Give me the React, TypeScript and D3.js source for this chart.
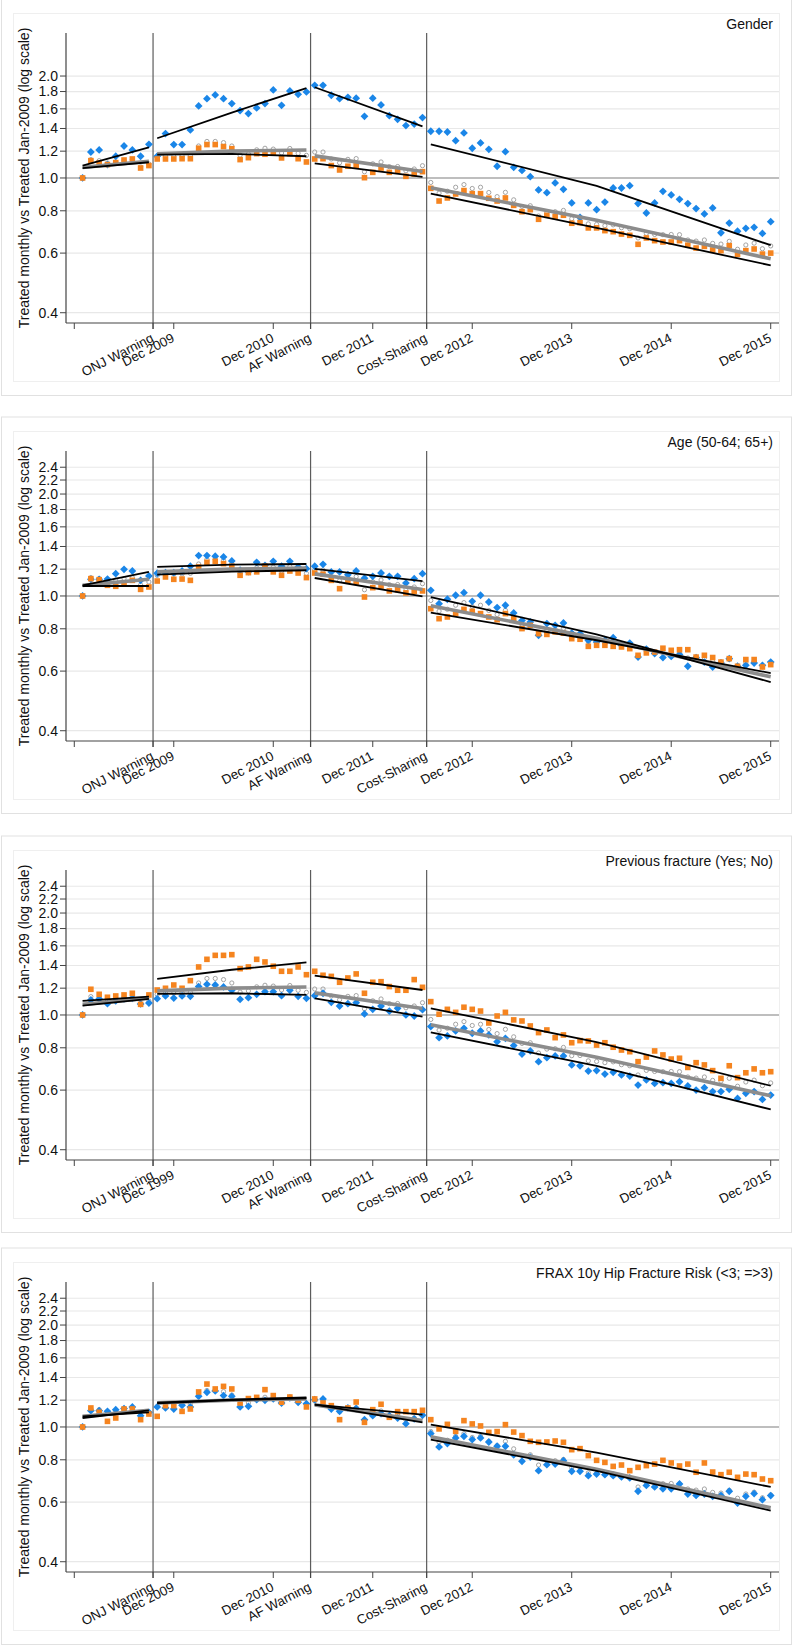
import React from 'react';
import * as d3 from 'd3';

// ---------- data ----------
const MONTHS: number[] = d3.range(1, 85); // Jan 2009 (1) ... Dec 2015 (84)

const xTickMonths = [0, 9.5, 12, 24, 28.5, 36, 42.5, 48, 60, 72, 84];
const xTickLabels = ['', 'ONJ Warning', 'Dec 2009', 'Dec 2010', 'AF Warning', 'Dec 2011', 'Cost-Sharing', 'Dec 2012', 'Dec 2013', 'Dec 2014', 'Dec 2015'];
const xTickLabelsFracture = ['', 'ONJ Warning', 'Dec 1999', 'Dec 2010', 'AF Warning', 'Dec 2011', 'Cost-Sharing', 'Dec 2012', 'Dec 2013', 'Dec 2014', 'Dec 2015'];
const interventions = [9.5, 28.5, 42.5];

const yTicksShort = [0.4, 0.6, 0.8, 1.0, 1.2, 1.4, 1.6, 1.8, 2.0];
const yTicksLong = [0.4, 0.6, 0.8, 1.0, 1.2, 1.4, 1.6, 1.8, 2.0, 2.2, 2.4];

const panelTitles = ['Gender', 'Age (50-64; 65+)', 'Previous fracture (Yes; No)', 'FRAX 10y Hip Fracture Risk (<3; =>3)'];

// overall (grey hollow circles), same in every panel
const overallValues = [
  1.0, 1.133, 1.125, 1.107, 1.115, 1.125, 1.133, 1.078, 1.1,
  1.15, 1.16, 1.16, 1.162, 1.166, 1.243, 1.282, 1.282, 1.272, 1.243, 1.168, 1.178, 1.211, 1.224, 1.217, 1.185, 1.222, 1.183, 1.166,
  1.193, 1.193, 1.138, 1.109, 1.135, 1.141, 1.043, 1.101, 1.115, 1.08, 1.081, 1.05, 1.063, 1.087,
  0.97, 0.902, 0.914, 0.939, 0.956, 0.931, 0.939, 0.906, 0.881, 0.907, 0.862, 0.824, 0.828, 0.772, 0.793, 0.795, 0.802, 0.758, 0.759, 0.732,
  0.729, 0.723, 0.727, 0.713, 0.708, 0.665, 0.686, 0.681, 0.68, 0.681, 0.68, 0.656, 0.651, 0.656, 0.641, 0.638, 0.65, 0.616, 0.634, 0.642, 0.618, 0.63,
];

// Gender
const genderBlue = [
  1.0, 1.193, 1.21, 1.095, 1.159, 1.243, 1.21, 1.159, 1.257,
  1.16, 1.352, 1.255, 1.255, 1.386, 1.632, 1.715, 1.759, 1.715, 1.658, 1.581, 1.549, 1.61, 1.658, 1.82, 1.639, 1.807, 1.766, 1.795,
  1.878, 1.878, 1.755, 1.715, 1.73, 1.72, 1.521, 1.72, 1.643, 1.528, 1.49, 1.428, 1.443, 1.508,
  1.374, 1.374, 1.367, 1.289, 1.358, 1.224, 1.269, 1.215, 1.083, 1.196, 1.075, 1.053, 1.009, 0.922, 0.905, 0.967, 0.926, 0.844, 0.765, 0.844,
  0.806, 0.849, 0.934, 0.934, 0.949, 0.84, 0.788, 0.844, 0.913, 0.891, 0.865, 0.84, 0.812, 0.783, 0.816, 0.689, 0.736, 0.696, 0.71, 0.715, 0.686, 0.743,
];
const genderOrange = [
  1.0, 1.125, 1.107, 1.095, 1.11, 1.13, 1.138, 1.07, 1.088,
  1.138, 1.138, 1.138, 1.14, 1.14, 1.224, 1.255, 1.255, 1.238, 1.22, 1.133, 1.148, 1.18, 1.175, 1.185, 1.146, 1.18, 1.14, 1.115,
  1.138, 1.14, 1.088, 1.056, 1.083, 1.09, 1.002, 1.039, 1.07, 1.039, 1.051, 1.011, 1.027, 1.044,
  0.932, 0.855, 0.873, 0.897, 0.918, 0.899, 0.899, 0.871, 0.855, 0.873, 0.83, 0.795, 0.806, 0.755, 0.776, 0.77, 0.776, 0.735, 0.738, 0.712,
  0.712, 0.699, 0.694, 0.683, 0.677, 0.637, 0.665, 0.653, 0.647, 0.647, 0.653, 0.633, 0.621, 0.628, 0.613, 0.61, 0.631, 0.595, 0.61, 0.617, 0.596, 0.6,
];

// Age
const ageBlue = [
  1.0, 1.12, 1.12, 1.122, 1.164, 1.199, 1.185, 1.112, 1.146,
  1.167, 1.172, 1.172, 1.185, 1.224, 1.316, 1.316, 1.31, 1.304, 1.269, 1.191, 1.18, 1.257, 1.232, 1.266, 1.224, 1.266, 1.218, 1.204,
  1.224, 1.24, 1.178, 1.178, 1.156, 1.185, 1.128, 1.143, 1.169, 1.143, 1.143, 1.092, 1.125, 1.164,
  1.039, 0.949, 0.978, 1.005, 1.023, 0.964, 1.005, 0.96, 0.924, 0.939, 0.891, 0.847, 0.838, 0.765, 0.829, 0.819, 0.832, 0.777, 0.774, 0.74,
  0.731, 0.74, 0.753, 0.715, 0.726, 0.66, 0.697, 0.676, 0.658, 0.663, 0.672, 0.62, 0.658, 0.638, 0.617, 0.634, 0.653, 0.62, 0.624, 0.634, 0.624, 0.638,
];
const ageOrange = [
  1.0, 1.125, 1.117, 1.075, 1.068, 1.087, 1.112, 1.046, 1.063,
  1.107, 1.138, 1.12, 1.122, 1.112, 1.218, 1.257, 1.266, 1.246, 1.224, 1.151, 1.172, 1.178, 1.224, 1.178, 1.151, 1.185, 1.169, 1.133,
  1.169, 1.159, 1.112, 1.051, 1.112, 1.1, 0.993, 1.058, 1.07, 1.035, 1.044, 1.021, 1.032, 1.035,
  0.917, 0.857, 0.867, 0.887, 0.913, 0.901, 0.887, 0.867, 0.851, 0.887, 0.857, 0.801, 0.819, 0.774, 0.77, 0.783, 0.777, 0.748, 0.745, 0.71,
  0.715, 0.715, 0.71, 0.707, 0.699, 0.668, 0.679, 0.683, 0.701, 0.691, 0.694, 0.694, 0.66, 0.668, 0.658, 0.638, 0.653, 0.62, 0.649, 0.649, 0.617, 0.627,
];

// Previous fracture
const fractureBlue = [
  1.0, 1.107, 1.115, 1.08, 1.1, 1.115, 1.12, 1.078, 1.085,
  1.117, 1.138, 1.122, 1.138, 1.135, 1.213, 1.232, 1.226, 1.21, 1.183, 1.112, 1.125, 1.151, 1.172, 1.172, 1.14, 1.183, 1.135, 1.12,
  1.14, 1.159, 1.09, 1.063, 1.08, 1.087, 1.007, 1.039, 1.063, 1.027, 1.046, 1.0, 0.993, 1.037,
  0.924, 0.857, 0.867, 0.897, 0.913, 0.883, 0.897, 0.873, 0.834, 0.853, 0.812, 0.767, 0.783, 0.728, 0.748, 0.757, 0.757, 0.712, 0.708, 0.683,
  0.685, 0.669, 0.677, 0.665, 0.66, 0.621, 0.643, 0.628, 0.631, 0.628, 0.635, 0.617, 0.6, 0.61, 0.594, 0.594, 0.603, 0.567, 0.587, 0.594, 0.563, 0.58,
];
const fractureOrange = [
  1.0, 1.191, 1.151, 1.128, 1.138, 1.146, 1.159, 1.075, 1.146,
  1.185, 1.199, 1.226, 1.199, 1.263, 1.386, 1.46, 1.5, 1.5, 1.507, 1.37, 1.386, 1.46, 1.434, 1.393, 1.346, 1.346, 1.386, 1.315,
  1.346, 1.31, 1.3, 1.249, 1.286, 1.322, 1.159, 1.249, 1.254, 1.213, 1.183, 1.183, 1.272, 1.207,
  1.095, 1.005, 1.039, 1.018, 1.054, 1.039, 1.027, 0.947, 0.993, 1.018, 0.967, 0.96, 0.928, 0.887, 0.903, 0.857, 0.873, 0.828, 0.84, 0.838,
  0.815, 0.828, 0.803, 0.788, 0.779, 0.728, 0.751, 0.783, 0.762, 0.741, 0.745, 0.7, 0.723, 0.712, 0.685, 0.65, 0.708, 0.653, 0.675, 0.693, 0.675, 0.68,
];

// FRAX
const fraxBlue = [
  1.0, 1.117, 1.117, 1.112, 1.125, 1.133, 1.146, 1.08, 1.105,
  1.146, 1.138, 1.13, 1.159, 1.146, 1.232, 1.266, 1.278, 1.238, 1.232, 1.146, 1.151, 1.204, 1.199, 1.21, 1.177, 1.218, 1.183, 1.172,
  1.204, 1.21, 1.13, 1.112, 1.138, 1.133, 1.051, 1.08, 1.095, 1.08, 1.063, 1.023, 1.056, 1.083,
  0.956, 0.873, 0.893, 0.928, 0.939, 0.918, 0.928, 0.903, 0.877, 0.877, 0.828, 0.792, 0.815, 0.743, 0.774, 0.777, 0.795, 0.74, 0.74, 0.718,
  0.726, 0.723, 0.718, 0.712, 0.707, 0.646, 0.672, 0.665, 0.657, 0.657, 0.679, 0.634, 0.628, 0.634, 0.624, 0.628, 0.646, 0.596, 0.624, 0.636, 0.61, 0.627,
];
const fraxOrange = [
  1.0, 1.138, 1.105, 1.039, 1.063, 1.13, 1.13, 1.051, 1.092,
  1.075, 1.156, 1.156, 1.112, 1.13, 1.269, 1.339, 1.295, 1.318, 1.295, 1.177, 1.213, 1.223, 1.289, 1.238, 1.183, 1.226, 1.199, 1.146,
  1.21, 1.177, 1.156, 1.051, 1.138, 1.185, 1.032, 1.125, 1.167, 1.068, 1.11, 1.11, 1.11, 1.12,
  1.051, 0.987, 1.018, 0.971, 1.044, 1.021, 1.007, 0.964, 0.969, 1.016, 0.966, 0.943, 0.907, 0.901, 0.903, 0.909, 0.901, 0.857, 0.863, 0.823,
  0.797, 0.786, 0.765, 0.772, 0.743, 0.76, 0.769, 0.777, 0.797, 0.783, 0.767, 0.777, 0.735, 0.783, 0.736, 0.723, 0.735, 0.71, 0.726, 0.723, 0.702, 0.694,
];

// fitted segments: [month, value] pairs per segment
type Seg = [number, number][];
const overallFit: Seg[] = [[[1, 1.075], [9, 1.12]], [[10, 1.178], [19, 1.2], [28, 1.21]], [[29, 1.162], [42, 1.045]], [[43, 0.936], [63, 0.75], [84, 0.577]]];
const genderBlueFit: Seg[] = [[[1, 1.088], [9, 1.232]], [[10, 1.31], [19, 1.56], [28, 1.843]], [[29, 1.853], [42, 1.421]], [[43, 1.257], [63, 0.948], [84, 0.633]]];
const genderOrangeFit: Seg[] = [[[1, 1.07], [9, 1.113]], [[10, 1.172], [19, 1.178], [28, 1.159]], [[29, 1.105], [42, 1.007]], [[43, 0.899], [63, 0.712], [84, 0.552]]];
const ageBlueFit: Seg[] = [[[1, 1.075], [9, 1.178]], [[10, 1.218], [19, 1.237], [28, 1.243]], [[29, 1.202], [42, 1.107]], [[43, 0.993], [63, 0.77], [84, 0.557]]];
const ageOrangeFit: Seg[] = [[[1, 1.07], [9, 1.07]], [[10, 1.156], [19, 1.18], [28, 1.191]], [[29, 1.13], [42, 0.998]], [[43, 0.893], [63, 0.74], [84, 0.592]]];
const fractureBlueFit: Seg[] = [[[1, 1.065], [9, 1.115]], [[10, 1.154], [19, 1.159], [28, 1.146]], [[29, 1.12], [42, 0.989]], [[43, 0.889], [63, 0.708], [84, 0.526]]];
const fractureOrangeFit: Seg[] = [[[1, 1.1], [9, 1.133]], [[10, 1.278], [19, 1.36], [28, 1.431]], [[29, 1.307], [42, 1.185]], [[43, 1.046], [63, 0.832], [84, 0.618]]];
const fraxBlueFit: Seg[] = [[[1, 1.075], [9, 1.105]], [[10, 1.175], [19, 1.2], [28, 1.215]], [[29, 1.164], [42, 1.032]], [[43, 0.918], [63, 0.742], [84, 0.566]]];
const fraxOrangeFit: Seg[] = [[[1, 1.063], [9, 1.12]], [[10, 1.18], [19, 1.205], [28, 1.222]], [[29, 1.164], [42, 1.087]], [[43, 1.016], [63, 0.84], [84, 0.665]]];

// ---------- layout / style ----------
const W = 794;
const H = 1646;
const panelTops = [0, 418, 837, 1249];
const AX_LEFT = 66;
const AX_RIGHT = 779;
const AX_TOP = 33;
const AX_BOTTOM = 323;
const FONT = "'Liberation Sans', Arial, Helvetica, sans-serif";
const BLUE = '#1a86e8';
const ORANGE = '#f5841f';
const GREY = '#9a9a9a';

const x = d3.scaleLinear().domain([-1, 85]).range([AX_LEFT, AX_RIGHT]);
const y = d3.scaleLog().domain([0.373, 2.68]).range([AX_BOTTOM, AX_TOP]);
const fitLine = d3.line<[number, number]>().x((d) => x(d[0])).y((d) => y(d[1]));

interface PanelSpec {
  title: string;
  yTicks: number[];
  xLabels: string[];
  blue: number[];
  orange: number[];
  blueFit: Seg[];
  orangeFit: Seg[];
}

const panels: PanelSpec[] = [
  { title: panelTitles[0], yTicks: yTicksShort, xLabels: xTickLabels, blue: genderBlue, orange: genderOrange, blueFit: genderBlueFit, orangeFit: genderOrangeFit },
  { title: panelTitles[1], yTicks: yTicksLong, xLabels: xTickLabels, blue: ageBlue, orange: ageOrange, blueFit: ageBlueFit, orangeFit: ageOrangeFit },
  { title: panelTitles[2], yTicks: yTicksLong, xLabels: xTickLabelsFracture, blue: fractureBlue, orange: fractureOrange, blueFit: fractureBlueFit, orangeFit: fractureOrangeFit },
  { title: panelTitles[3], yTicks: yTicksLong, xLabels: xTickLabels, blue: fraxBlue, orange: fraxOrange, blueFit: fraxBlueFit, orangeFit: fraxOrangeFit },
];

const DR = 3.9; // diamond half-diagonal
const SQ = 5.6; // square side

function Panel({ spec, top }: { spec: PanelSpec; top: number }) {
  return (
    <g transform={`translate(0,${top})`}>
      <rect x={1.5} y={-1} width={790} height={396.5} fill="white" stroke="#e1e1e1" strokeWidth={1} />
      <rect x={13.5} y={13.5} width={766} height={368} fill="white" stroke="#efefef" strokeWidth={1} />

      {/* grid */}
      {spec.yTicks.filter((v) => v !== 1.0).map((v) => (
        <line key={'g' + v} x1={AX_LEFT} x2={AX_RIGHT} y1={y(v)} y2={y(v)} stroke="#e8e8e8" strokeWidth={1.2} />
      ))}
      <line x1={AX_LEFT} x2={AX_RIGHT} y1={y(1)} y2={y(1)} stroke="#a8a8a8" strokeWidth={1.4} />

      {/* intervention lines */}
      {interventions.map((m) => (
        <line key={'v' + m} x1={x(m)} x2={x(m)} y1={AX_TOP} y2={AX_BOTTOM + 6} stroke="#5c5c5c" strokeWidth={1.2} />
      ))}

      {/* axes */}
      <line x1={AX_LEFT} x2={AX_LEFT} y1={AX_TOP} y2={AX_BOTTOM} stroke="#444" strokeWidth={1.2} />
      <line x1={AX_LEFT} x2={AX_RIGHT} y1={AX_BOTTOM} y2={AX_BOTTOM} stroke="#444" strokeWidth={1.2} />
      {spec.yTicks.map((v) => (
        <g key={'yt' + v}>
          <line x1={AX_LEFT - 6} x2={AX_LEFT} y1={y(v)} y2={y(v)} stroke="#444" strokeWidth={1} />
          <text x={AX_LEFT - 8} y={y(v)} dy="0.35em" textAnchor="end" fontSize={14} fontFamily={FONT} fill="#111">
            {d3.format('.1f')(v)}
          </text>
        </g>
      ))}
      {xTickMonths.map((m, i) => (
        <g key={'xt' + i}>
          <line x1={x(m)} x2={x(m)} y1={AX_BOTTOM} y2={AX_BOTTOM + 6} stroke="#444" strokeWidth={1} />
          {spec.xLabels[i] ? (
            <text transform={`translate(${x(m) + 1.5},${AX_BOTTOM + 18}) rotate(-27)`} textAnchor="end" fontSize={13.2} fontFamily={FONT} fill="#111">
              {spec.xLabels[i]}
            </text>
          ) : null}
        </g>
      ))}
      <text transform={`translate(29,${(AX_TOP + AX_BOTTOM) / 2}) rotate(-90)`} textAnchor="middle" fontSize={14} fontFamily={FONT} fill="#111">
        Treated monthly vs Treated Jan-2009 (log scale)
      </text>
      <text x={773} y={28.5} textAnchor="end" fontSize={14} fontFamily={FONT} fill="#111">
        {spec.title}
      </text>

      {/* markers */}
      {MONTHS.map((m, i) => (
        <circle key={'o' + m} cx={x(m)} cy={y(overallValues[i])} r={2.1} fill="none" stroke={GREY} strokeWidth={0.9} />
      ))}
      {MONTHS.map((m, i) => {
        const cx = x(m);
        const cy = y(spec.blue[i]);
        return <path key={'b' + m} d={`M${cx},${cy - DR}L${cx + DR},${cy}L${cx},${cy + DR}L${cx - DR},${cy}Z`} fill={BLUE} />;
      })}
      {MONTHS.map((m, i) => (
        <rect key={'s' + m} x={x(m) - SQ / 2} y={y(spec.orange[i]) - SQ / 2} width={SQ} height={SQ} fill={ORANGE} />
      ))}

      {/* fitted lines */}
      {overallFit.map((s, i) => (
        <path key={'fo' + i} d={fitLine(s) || ''} fill="none" stroke="#8c8c8c" strokeWidth={3.6} />
      ))}
      {spec.blueFit.map((s, i) => (
        <path key={'fb' + i} d={fitLine(s) || ''} fill="none" stroke="#000" strokeWidth={1.8} />
      ))}
      {spec.orangeFit.map((s, i) => (
        <path key={'fr' + i} d={fitLine(s) || ''} fill="none" stroke="#000" strokeWidth={1.8} />
      ))}
    </g>
  );
}

export default function App() {
  return (
    <svg
      width={W}
      height={H}
      viewBox={`0 0 ${W} ${H}`}
      style={{ position: 'absolute', left: 0, top: 0, background: 'white' }}
    >
      <rect x={0} y={0} width={W} height={H} fill="white" />
      {panels.map((p, i) => (
        <Panel key={i} spec={p} top={panelTops[i]} />
      ))}
    </svg>
  );
}
